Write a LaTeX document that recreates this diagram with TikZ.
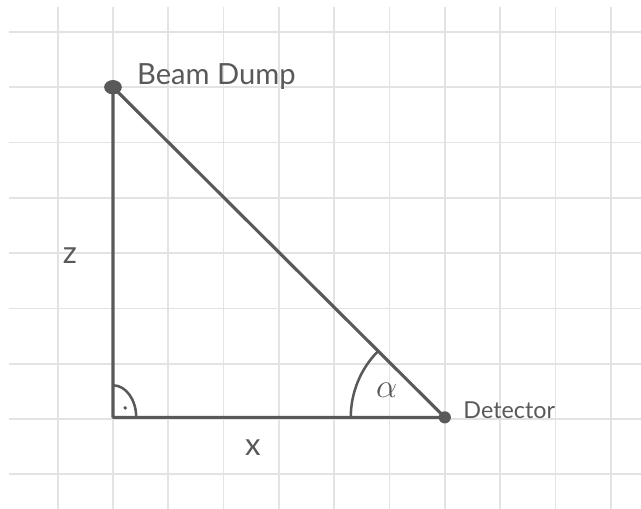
\documentclass[tikz,border=0pt]{standalone}
\usepackage{fontspec}
\setmainfont{Lato}
\definecolor{pencil}{HTML}{595959}
\definecolor{paper}{HTML}{E3E3E3}
\begin{document}
\begin{tikzpicture}[
  gridline/.style={paper, line width=0.9pt},
  side/.style={pencil, line width=1.6pt, line join=round},
  anglearc/.style={pencil, line width=1.3pt},
  lbl/.style={pencil, inner sep=0pt}]
\useasboundingbox (-2.043,-1.627) rectangle (9.548,7.577);
% paper grid
\foreach \i in {-1,...,9}
  \draw[gridline] (\i,-1.627) -- (\i,7.45);
\foreach \j in {-1,...,7}
  \draw[gridline] (-1.88,\j) -- (9.548,\j);
% triangle
\coordinate (corner) at (0,0.03);
\coordinate (dump) at (0,6);
\coordinate (det) at (6,0.03);
\draw[side] (dump) -- (corner) -- (det) -- cycle;
\fill[pencil] (dump) ellipse [x radius=0.16, y radius=0.13];
\fill[pencil] (det) circle (0.11);
% angles
\draw[anglearc] (det) ++(180:1.7) arc (180:135:1.7);
\draw[anglearc] (corner) ++(0.42,0) arc [start angle=0, end angle=90, x radius=0.42, y radius=0.58];
\fill[pencil] (0.22,0.2) circle (0.035);
% labels
\node[lbl, anchor=west, font=\fontsize{15}{18}\selectfont] (dumplbl) at (0.43,6.2) {Beam Dump};
\node[lbl, anchor=west, font=\fontsize{12}{14}\selectfont] (detlbl) at (6.33,0.16) {Detector};
\node[lbl, font=\fontsize{16}{19}\selectfont] (zlbl) at (-0.78,2.95) {z};
\node[lbl, font=\fontsize{16}{19}\selectfont] (xlbl) at (2.53,-0.51) {x};
\node[lbl, font=\fontsize{17}{20}\selectfont] (alpha) at (4.95,0.52) {$\alpha$};
\end{tikzpicture}
\end{document}
